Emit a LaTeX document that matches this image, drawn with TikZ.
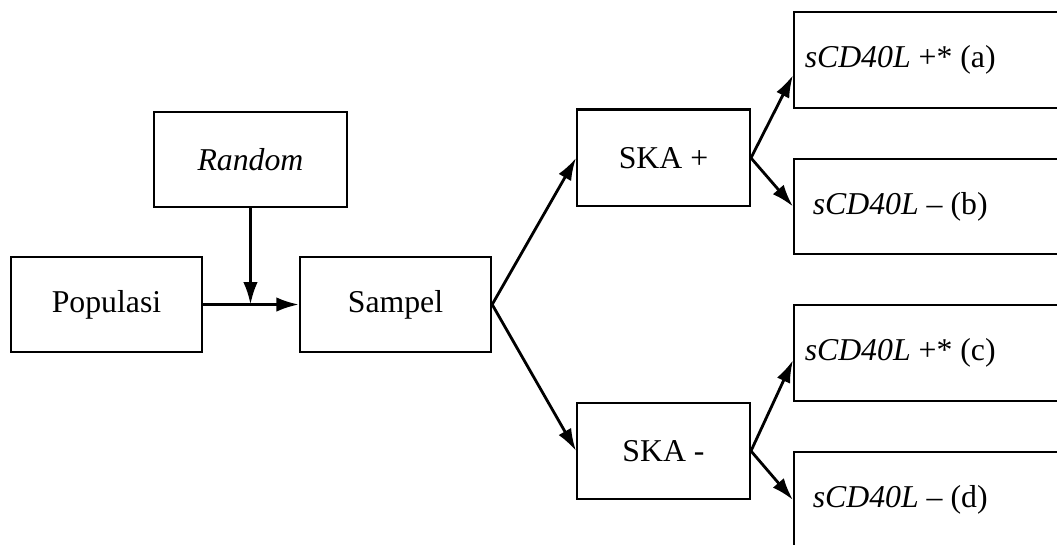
\documentclass[tikz,border=0pt]{standalone}
\usepackage{fontspec}
\setmainfont{Liberation Serif}
\usetikzlibrary{arrows.meta}

\begin{document}
\begin{tikzpicture}[font=\fontsize{11.3pt}{13pt}\selectfont,
  box/.style={draw,line width=0.75pt,minimum width=2.39cm,minimum height=1.19cm},
  ska/.style={draw,line width=0.75pt,minimum width=2.16cm,minimum height=1.21cm},
  rbox/.style={draw,line width=0.75pt,anchor=west,minimum width=4cm,minimum height=1.19cm},
  arr/.style={line width=1pt,-{Latex[length=2.8mm,width=1.8mm]}}]
  \clip (0,0) rectangle (13.2125,6.8125);
  \node[box] (pop) at (1.331,3.006) {Populasi};
  \node[box] (sampel) at (4.944,3.006) {Sampel};
  \node[box,minimum width=2.41cm] (random) at (3.131,4.819) {\textit{Random}};
  \node[ska] (skap) at (8.294,4.838) {SKA +};
  \node[ska,minimum height=1.2cm] (skam) at (8.294,1.175) {SKA -};
  \node[rbox] (a) at (9.9125,6.0625) {};
  \node[rbox] (b) at (9.9125,4.231) {};
  \node[rbox] (c) at (9.9125,2.4) {};
  \node[rbox] (d) at (9.9125,0.5625) {};
  \node (ta) at ([xshift=1.34cm]a.west) {\textit{sCD40L} +* (a)};
  \node (tb) at ([xshift=1.34cm]b.west) {\textit{sCD40L} -- (b)};
  \node (tc) at ([xshift=1.34cm]c.west) {\textit{sCD40L} +* (c)};
  \node (td) at ([xshift=1.34cm]d.west) {\textit{sCD40L} -- (d)};
  \draw[arr] (pop.east) -- (sampel.west);
  \draw[arr] (random.south) -- (random.south |- pop.east);
  \draw[arr] (sampel.east) -- (skap.west);
  \draw[arr] (sampel.east) -- (skam.west);
  \draw[arr] (skap.east) -- ([yshift=-0.19cm]a.west);
  \draw[arr] (skap.east) -- (b.west);
  \draw[arr] (skam.east) -- ([yshift=-0.09cm]c.west);
  \draw[arr] (skam.east) -- (d.west);
\end{tikzpicture}
\end{document}
